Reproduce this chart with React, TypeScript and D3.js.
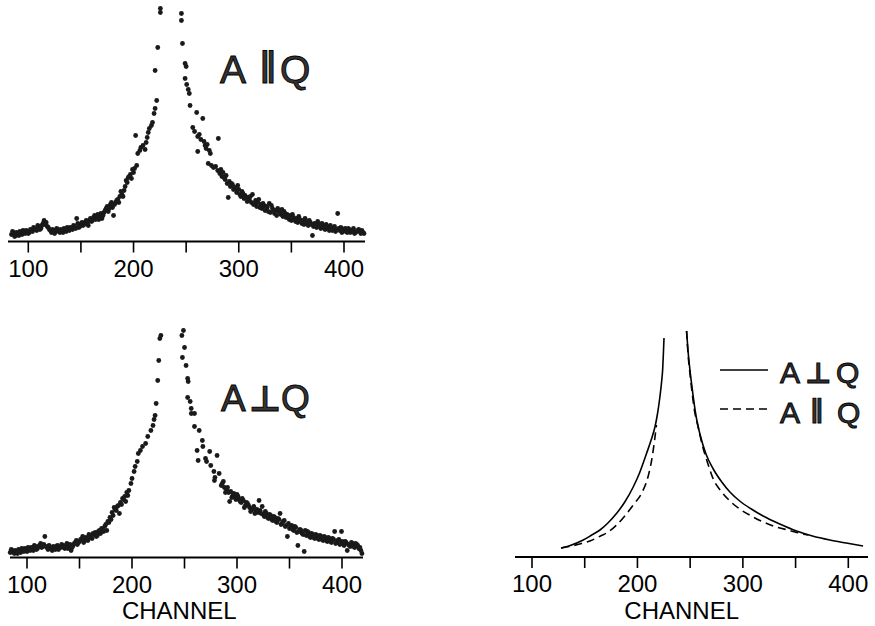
import React from 'react';
import * as d3 from 'd3';

// ---- data (channel, intensity) ----
const ticksAll = [100, 150, 200, 250, 300, 350, 400];
const ticksLabelled = [100, 200, 300, 400];
const axisTitle = 'CHANNEL';

const scatterParallel: [number, number][] = [
  [84,7],[86,9],[88,6],[90,8],[92,10],[94,7],[96,9],[98,11],[100,8],[102,12],[104,10],[106,13],[108,11],[110,15],[112,13],[114,18],[115,21],[116,17],[118,15],[120,12],[122,9],[124,11],[126,10],[128,12],[130,9],[132,11],[134,13],[136,10],[138,12],[140,14],[142,12],[144,15],[146,23],[148,14],[150,17],[152,16],[154,19],[156,18],[158,21],[160,20],[162,24],[164,22],[166,27],[168,25],[170,23],[172,29],[174,33],[176,30],[178,37],[180,34],[181,26],[183,39],[185,42],[187,45],[189,47],[191,51],[193,61],[195,64],[197,67],[199,72],[201,73],[202,106],[203,76],[204,88],[206,91],[207,94],[209,96],[211,92],[212,99],[213,104],[214,109],[215,113],[217,116],[218,119],[219.5,128],[220.5,133],[222,141],[220.5,171],[223,194],[225.5,229],[225.5,233],
  [85,10],[87,5],[89,9],[91,6],[93,8],[95,11],[97,8],[99,10],[101,9],[103,11],[105,14],[107,12],[109,16],[111,12],[113,16],[117,19],[119,14],[121,11],[123,12],[125,8],[127,13],[129,10],[131,12],[133,9],[135,12],[137,14],[139,11],[141,13],[143,16],[145,13],[147,18],[149,15],[151,19],[153,17],[155,21],[157,16],[159,23],[161,21],[163,26],[165,24],[167,22],[169,28],[171,26],[173,31],[175,35],[177,33],[179,39],[182,37],[184,41],[186,39],[188,50],[190,45],[192,55],[194,59],[196,65],[198,63],[200,69],
  [245.5,228],[245.5,221],[246.5,198],[249,178],[250,175],[249,163],[250.5,157],[252,152],[253,148],[253.7,136],[256.3,114],[258,110],[260,129],[261,105],[261,90],[262.5,107],[264,102],[265.8,123],[267,100],[268,96],[269,93],[270,97],[271,78],[272,91],[273,88],[274,76],[276,74],[278,75],[280.6,103],[280,71],[282,68],[284,65],[285,69],[287,62],[288,66],[289,58],[290,44],[291,60],[292,55],[294,57],[295,52],[296,54],[298,49],[300,52],[301,47],[302,45],[304,48],[305,43],[306,46],[308,40],[309,44],[310,42],[312,39],[313,47],[314,37],[316,41],[317,35],[318,39],[320,34],[321,37],[322,33],[324,36],[325,31],[326,35],[328,30],[329,38],[330,29],[332,33],[334,28],[335,31],[336,26],[338,30],[340,27],[341,32],[342,25],[344,28],[345,24],[346,27],[348,22],[349,26],[350,21],[352,24],[354,20],[355,23],[356,19],[358,22],[360,18],[361,21],[362,17],[364,20],[366,16],[368,19],[370,6],[371,15],[372,18],[374,14],[376,17],[378,13],[380,16],[382,12],[384,15],[386,11],[388,14],[390,12],[392,10],[394,28],[395,13],[396,11],[398,9],[400,12],[402,10],[404,13],[406,9],[408,11],[410,8],[412,10],[414,12],[416,8],[418,9],
  [283,72],[286,64],[293,58],[297,53],[299,56],[303,50],[307,44],[311,45],[315,38],[319,42],[323,38],[327,34],[331,36],[333,31],[337,33],[339,29],[343,30],[347,25],[351,27],[353,22],[357,25],[359,20],[363,23],[365,18],[367,21],[369,17],[373,16],[375,20],[377,15],[379,18],[381,14],[383,17],[385,13],[387,16],[389,11],[391,15],[393,12],[397,14],[399,10],[401,13],[403,9],[405,12],[407,10],[409,13],[411,9],[413,11],[415,10],[417,11],[419,8]
];

const scatterPerp: [number, number][] = [
  [84,5],[86,7],[88,4],[90,6],[92,8],[94,5],[96,7],[98,9],[100,6],[102,8],[104,10],[106,7],[108,11],[110,9],[112,12],[114,10],[116,13],[117,21],[118,11],[120,8],[122,10],[124,7],[126,9],[128,11],[130,8],[132,10],[134,12],[136,9],[138,14],[140,11],[142,7],[144,12],[146,15],[148,13],[150,16],[152,18],[154,15],[156,20],[158,17],[160,22],[162,19],[164,23],[166,21],[168,26],[170,24],[172,28],[174,31],[176,27],[178,35],[180,38],[182,42],[184,48],[186,51],[188,44],[189,55],[190,53],[192,58],[194,56],[196,62],[197,67],[199,74],[200,79],[202,86],[203,91],[205,96],[206,104],[208,107],[210,111],[213,114],[215,121],[218,127],[220,132],[221,138],[222,142],[223,154],[224.5,177],[225.5,197],[226.5,219],[227.5,222],
  [85,8],[87,5],[89,7],[91,4],[93,6],[95,9],[97,6],[99,8],[101,10],[103,7],[105,9],[107,12],[109,8],[111,11],[113,14],[115,11],[119,10],[121,12],[123,9],[125,11],[127,8],[129,12],[131,10],[133,13],[135,10],[137,12],[139,9],[141,13],[143,10],[145,14],[147,17],[149,15],[151,18],[153,21],[155,17],[157,19],[159,23],[161,20],[163,24],[165,25],[167,22],[169,27],[171,29],[173,26],[175,33],[177,36],[179,40],[181,45],[183,50],[185,47],[187,52],[191,59],[193,61],[195,65],
  [249,227],[247.5,222],[250,210],[248,200],[251.5,192],[253,179],[253.5,176],[253,160],[255.4,156],[256.4,149],[256.5,144],[259.5,144],[259.5,131],[264,127],[267,117],[267.5,111],[262,107],[274,106],[281,102],[263,97],[270,99],[271,96],[275,92],[278,86],[279,80],[283,84],[278.5,77],[286,74],[288,70],[290,68],[292,65],[293,56],[294,66],[296,62],[298,60],[300,63],[302,58],[304,55],[306,57],[308,52],[310,54],[312,50],[314,48],[316,51],[318,46],[320,45],[321,57],[322,47],[324,51],[325,43],[326,41],[328,44],[330,39],[332,42],[334,37],[336,40],[338,35],[340,38],[341,44],[342,33],[344,36],[346,31],[348,21],[349,34],[350,29],[352,32],[354,27],[356,30],[358,12],[359,26],[360,28],[362,24],[364,6],[365,27],[366,22],[368,25],[370,20],[372,23],[374,19],[376,22],[378,18],[380,21],[382,17],[384,20],[386,16],[388,19],[390,15],[392,18],[393,26],[394,14],[396,17],[398,13],[399.5,26],[400,16],[402,12],[404,15],[405,7],[406,13],[408,11],[410,14],[412,10],[414,13],[416,9],[418,7],[419,4],
  [285,72],[287,76],[289,65],[291,70],[295,60],[297,64],[299,58],[301,61],[303,56],[305,59],[307,50],[309,55],[311,52],[313,46],[315,49],[317,44],[319,48],[323,44],[327,46],[329,40],[331,43],[333,38],[335,41],[337,36],[339,39],[343,34],[345,37],[347,32],[351,30],[353,28],[355,31],[357,25],[361,27],[363,23],[367,26],[369,21],[371,24],[373,20],[375,23],[377,19],[379,22],[381,18],[383,21],[385,17],[387,20],[389,16],[391,19],[395,15],[397,18],[401,14],[403,16],[407,12],[409,15],[411,11],[413,14],[415,12],[417,10]
];

const fitPerpLeft: [number, number][] = [
  [127.5,8.7],[135,11],[148.6,17],[156,21.5],[164.5,27],[172,34],[180.3,43.7],[188,55],[196,70],[202,84],[208.7,103.7],[213,117],[216.6,130],[219,143],[221.3,160],[223,176],[223.9,187],[224.6,203],[225.2,219]
];
const fitPerpRight: [number, number][] = [
  [246.6,226],[248,206],[249.8,187],[252,168],[254,152],[256.1,138],[260,120],[265,103],[271.9,88],[280,75],[287.7,65],[297,56],[308,48],[319.2,41],[335,33],[350.9,26],[366,21],[382.5,17],[398,14],[414,11]
];
const fitParLeft: [number, number][] = [
  [128,9.3],[135,10.5],[147,13.5],[155,16],[165,21],[172.3,25],[180.3,32],[188,41],[196,52],[204.6,65],[210,80],[214,100],[216.3,117],[218,132]
];
const fitParRight: [number, number][] = [
  [246.6,226],[248,203],[250,182],[252,163],[254,147],[257.6,130],[262,110],[266,96],[271.9,78],[280,65],[287.7,56],[297,48],[308,41],[319.2,35],[332,30],[344.5,26.5],[357,23],[362,22]
];

const FONT = "'Liberation Sans', Arial, sans-serif";
const SYMFONT = "'DejaVu Sans', sans-serif";

function Axis({ x, axisY, x0, x1 }: { x: d3.ScaleLinear<number, number>; axisY: number; x0: number; x1: number }) {
  return (
    <g>
      <line x1={x0} x2={x1} y1={axisY} y2={axisY} stroke="#000" strokeWidth={2} />
      {ticksAll.map((t) => (
        <line key={t} x1={x(t)} x2={x(t)} y1={axisY} y2={axisY + 11} stroke="#000" strokeWidth={1.6} />
      ))}
      {ticksLabelled.map((t) => (
        <text key={t} x={x(t)} y={axisY + 35} textAnchor="middle" fontFamily={FONT} fontSize={24} fill="#000">
          {String(t)}
        </text>
      ))}
    </g>
  );
}

function Label({ x, y, size, sym, kind }: { x: [number, number, number]; y: number; size: number; sym: string; kind: 'par' | 'perp' }) {
  const symSize = kind === 'par' ? size * 0.85 : size * 0.95;
  const symDy = kind === 'par' ? -size * 0.17 : 0;
  return (
    <text y={y} fontFamily={FONT} fontSize={size} fill="#333" stroke="#000" strokeWidth={0.9}>
      <tspan x={x[0]}>A</tspan>
      <tspan x={x[1]} dy={symDy} fontFamily={SYMFONT} fontSize={symSize} fontWeight="bold">{sym}</tspan>
      <tspan x={x[2]} dy={-symDy}>Q</tspan>
    </text>
  );
}

export default function App() {
  const xA = d3.scaleLinear().domain([100, 400]).range([28.3, 344]);
  const yA = d3.scaleLinear().domain([0, 240]).range([241.5, 1.5]);
  const xB = d3.scaleLinear().domain([100, 400]).range([27, 342]);
  const yB = d3.scaleLinear().domain([0, 240]).range([557.5, 317.5]);
  const xC = d3.scaleLinear().domain([100, 400]).range([532, 848.3]);
  const yC = d3.scaleLinear().domain([0, 240]).range([557, 317]);

  const lineC = d3
    .line<[number, number]>()
    .x((d) => xC(d[0]))
    .y((d) => yC(d[1]))
    .curve(d3.curveMonotoneX);

  const PAR = '\u2225';
  const PERP = '\u22A5';

  return (
    <svg width={875} height={626} style={{ position: 'absolute', left: 0, top: 0, background: '#fff' }}>
      <rect width={875} height={626} fill="#fff" />
      <g>
        {scatterParallel.map((d, i) => (
          <circle key={i} cx={xA(d[0])} cy={yA(d[1])} r={2.4} fill="#1a1a1a" />
        ))}
        <Axis x={xA} axisY={241.5} x0={8} x1={365} />
        <Label x={[220, 259, 280]} y={83} size={39} sym={PAR} kind="par" />
      </g>
      <g>
        {scatterPerp.map((d, i) => (
          <circle key={i} cx={xB(d[0])} cy={yB(d[1])} r={2.4} fill="#1a1a1a" />
        ))}
        <Axis x={xB} axisY={557.5} x0={10} x1={363} />
        <text x={xB(245)} y={619} textAnchor="middle" fontFamily={FONT} fontSize={24} fill="#000">
          {axisTitle}
        </text>
        <Label x={[221, 249, 281]} y={411} size={37} sym={PERP} kind="perp" />
      </g>
      <g>
        <path d={lineC(fitPerpLeft) || ''} fill="none" stroke="#000" strokeWidth={1.6} />
        <path d={lineC(fitPerpRight) || ''} fill="none" stroke="#000" strokeWidth={1.6} />
        <path d={lineC(fitParLeft) || ''} fill="none" stroke="#000" strokeWidth={1.6} strokeDasharray="8,5" />
        <path d={lineC(fitParRight) || ''} fill="none" stroke="#000" strokeWidth={1.6} strokeDasharray="8,5" />
        <Axis x={xC} axisY={557} x0={515} x1={868} />
        <text x={xC(242)} y={619} textAnchor="middle" fontFamily={FONT} fontSize={24} fill="#000">
          {axisTitle}
        </text>
        <line x1={720} x2={768} y1={370} y2={370} stroke="#000" strokeWidth={1.6} />
        <Label x={[780, 805, 836]} y={383} size={30} sym={PERP} kind="perp" />
        <line x1={720} x2={768} y1={409} y2={409} stroke="#000" strokeWidth={1.6} strokeDasharray="8,5" />
        <Label x={[780, 810, 837]} y={423} size={30} sym={PAR} kind="par" />
      </g>
    </svg>
  );
}
